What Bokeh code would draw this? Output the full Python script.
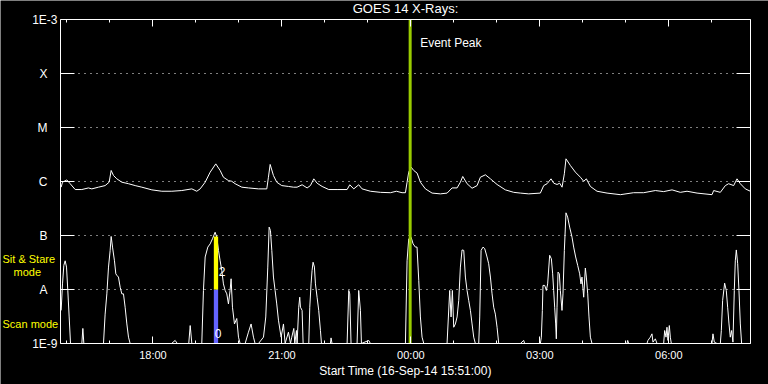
import pandas as pd
from bokeh.plotting import figure
from bokeh.models import (Range1d, FixedTicker, CustomJSTickFormatter, LogAxis,
                          DatetimeAxis, Label)
from bokeh.embed import file_html
from bokeh.resources import INLINE

# ---------------- data ----------------
start_time = "2014-09-16 15:51:00"
total_minutes = 963
peak_time = "2014-09-16 23:59:00"
mode_switch_time = "2014-09-16 19:28:00"

# GOES long channel (1-8 A), minutes after start / flux W m^-2
long_minutes = [0.9, 2.8, 8.8, 13.5, 20.5, 29.8, 39, 43.7, 53, 62.3, 67.9, 70.7, 74, 78.6, 85.6,
                94.9, 104.2, 113.5, 127.5, 141.4, 155.4, 169.3, 183.3, 190.2, 194.9, 201.9, 208.9,
                216.7, 222.8, 227.4, 234.4, 239, 243.7, 253, 262.3, 276.3, 287.9, 290.2, 292.6,
                297.2, 301.8, 308.8, 318.1, 325.1,
                330.2, 337.2, 344.2, 348.8, 353.5, 358.1, 365.1, 374.4, 386, 400, 403.7, 409.3,
                416.2, 420.9, 432.5, 446.5, 460.4, 468.8, 476.7, 481.4, 483.7, 486, 489.3, 493,
                497.7, 502.3, 509.3, 518.6, 530.2, 539.6, 546.5, 553.5, 558.1, 561.4, 567.4, 574.4,
                581.4, 586, 593, 600, 609.3, 620.9, 632.5,
                641.8, 653.5, 669.7, 674.4, 679.1, 684.6, 688.4, 693, 696.7, 700, 703.2, 705.5,
                711.6, 718.6, 725.6, 730.2, 733.9, 739.5, 748.8, 762.8, 781.4, 799.9, 813.9, 830.2,
                841.8, 853.5, 865.1, 874.4, 888.4, 909.3, 911.6, 920.9, 927.9, 932.5, 939.5, 944.2,
                948.8, 955.8, 962.8]
long_flux = [7.85e-7, 9.7e-7, 1.07e-6, 9.1e-7, 7.1e-7, 7.1e-7, 7.6e-7, 7.3e-7, 7.85e-7, 8.4e-7,
             9.7e-7, 1.60e-6, 1.29e-6, 1.12e-6, 9.7e-7, 9.1e-7, 8.4e-7, 7.85e-7, 7.0e-7, 6.6e-7,
             6.6e-7, 6.8e-7, 7.3e-7, 6.6e-7, 7.3e-7, 9.7e-7, 1.49e-6, 2.12e-6, 1.60e-6, 1.20e-6,
             1.04e-6, 1.01e-6, 9.1e-7, 7.85e-7, 7.6e-7, 7.3e-7, 7.3e-7, 1.20e-6, 2.07e-6, 1.29e-6,
             9.7e-7, 8.4e-7, 8.1e-7, 7.85e-7,
             7.85e-7, 8.7e-7, 7.6e-7, 8.4e-7, 1.12e-6, 9.3e-7, 8.1e-7, 7.1e-7, 7.1e-7, 7.1e-7,
             8.7e-7, 7.3e-7, 8.7e-7, 7.3e-7, 6.6e-7, 6.3e-7, 6.2e-7, 6.6e-7, 6.2e-7, 6.2e-7,
             9.7e-7, 1.49e-6, 1.85e-6, 1.60e-6, 1.43e-6, 9.7e-7, 7.3e-7, 6.1e-7, 5.9e-7, 6.1e-7,
             7.6e-7, 7.6e-7, 9.7e-7, 1.24e-6, 9.1e-7, 7.5e-7, 8.4e-7, 1.20e-6, 1.33e-6, 1.12e-6,
             8.8e-7, 7.0e-7, 6.3e-7,
             6.1e-7, 5.9e-7, 6.1e-7, 8.4e-7, 9.1e-7, 1.12e-6, 9.3e-7, 8.8e-7, 9.3e-7, 7.85e-7,
             1.39e-6, 2.63e-6, 1.98e-6, 1.49e-6, 1.20e-6, 1.01e-6, 1.12e-6, 8.1e-7, 6.6e-7, 6.1e-7,
             5.7e-7, 6.2e-7, 6.2e-7, 6.8e-7, 6.5e-7, 7.0e-7, 6.3e-7, 6.6e-7, 6.1e-7, 5.7e-7,
             6.8e-7, 6.3e-7, 8.4e-7, 9.1e-7, 8.4e-7, 1.12e-6, 9.1e-7, 7.3e-7, 6.6e-7]

# GOES short channel (0.5-4 A)
short_minutes = [0.9, 2.8, 4.65, 6.5, 8.4, 10.2, 12.1, 14, 29.8, 31.2, 32.6, 60, 62.3, 64.7, 67,
                 69.3, 70.7, 72.6, 75.3, 77.2, 79.1, 80.9, 83.3, 85.6, 87.9, 90.2, 92.6, 94.9, 97.2,
                 155, 160, 163, 179, 181, 183.3, 197.2, 199.5, 201.9, 205.6, 208.9, 212.1, 215.8,
                 218.1, 220.5, 222.8, 225.1, 227.4, 229.8, 232.1, 234.4, 236.7, 238.1, 240, 242.8,
                 246, 248.4, 250.7, 257.7, 262.3, 266, 269.3, 271.6, 276.3, 283.3, 286.5, 289.3,
                 291.2, 293, 294.9, 297.2, 299.5, 301.8, 304.2, 307.9, 311.2, 313.5, 318.1, 321,
                 322.8, 325.6, 327, 329.3, 330.2, 332.5, 333.9, 334.9, 337.2, 338.6, 346.5, 347.9,
                 349.7, 351.1, 352.5, 354.4, 355.8, 358.1, 360.4, 362.8, 364.2, 376.7, 377.6, 379,
                 400, 402.3, 403.7, 405.5, 413.9, 416.2, 418.6, 420, 430.2, 432.5, 481.4, 483.7,
                 486, 489.3, 492.1, 495.3, 497.6, 500, 502.3, 504.6, 507, 539.5, 543.2, 545.1,
                 546.9, 548.8, 551.1, 553.5, 555.8, 558.1, 560.4, 562.8, 565.1, 567.4, 569.7, 572.1,
                 574.4, 576.7, 579, 583.7, 585.1, 587, 589.7, 592.1, 595.3, 597.6, 600, 602.3,
                 604.6, 606.9, 609.3, 611.6, 641.8, 646.5, 647.8, 669.7, 671.1, 672.5, 673.4, 675.8,
                 678.1, 679.9, 682.7, 685.1, 686.9, 688.3, 689.7, 691.1, 692, 693, 694.4, 696.2,
                 697.6, 699.9, 701.3, 703.2, 705.5, 707.8, 710.6, 713.9, 716.2, 719, 721.8, 724.6,
                 726.4, 727.8, 730.2, 732.5, 733.9, 735.8, 737.6, 739.5, 741.8, 790.6, 791.6, 793,
                 818.5, 819.9, 823.2, 825.5, 826.9, 830.2, 832.5, 841.8, 843.2, 845.1, 846.4, 847.8,
                 849.7, 851.1, 852.5, 909.2, 910.6, 912.5, 916.2, 920.9, 922.3, 924.1, 926.9, 929.2,
                 931.1, 933, 934.8, 936.7, 938.5, 940.4, 941.8, 943.2, 945.1, 946.9, 948.8, 950.6,
                 962.7]
short_flux = [4.1e-9, 1.27e-8, 2.8e-8, 3.4e-8, 2.6e-8, 9.6e-9, 3.1e-9, 1e-9, 1e-9, 1.9e-9, 1e-9,
              1e-9, 3.5e-9, 8.3e-9, 2.6e-8, 5.3e-8, 9.6e-8, 6.1e-8, 3.4e-8, 1.95e-8, 1.8e-8, 1.7e-8,
              1.1e-8, 8.3e-9, 8.3e-9, 4.7e-9, 2.3e-9, 1.31e-9, 1e-9,
              1e-9, 1.14e-9, 1e-9, 1e-9, 2.15e-9, 1e-9, 1e-9, 9.6e-9, 4.0e-8, 6.1e-8, 7.0e-8,
              8.7e-8, 1.15e-7, 9.3e-8, 5.3e-8, 3.4e-8, 2.25e-8, 1.27e-8, 9.6e-9, 8.3e-9, 5.4e-9,
              9.6e-9, 1.58e-8, 4.7e-9, 2.3e-9, 2.9e-9, 1.31e-9, 1e-9, 1e-9, 1.62e-9, 2.3e-9,
              1.31e-9, 1e-9, 1e-9, 1.31e-9, 3.1e-9, 2.6e-8, 1.43e-7, 1.24e-7, 5.3e-8, 1.7e-8,
              9.6e-9, 5.4e-9, 2.7e-9, 1.31e-9, 2.3e-9, 1e-9, 1.62e-9, 1e-9, 1.31e-9, 1.9e-9, 1e-9,
              1.74e-9, 1e-9, 4.7e-9, 7.2e-9, 4.7e-9, 4.1e-9, 1e-9, 1e-9, 4.7e-9, 1.27e-8, 2.25e-8,
              3.2e-8, 2.6e-8, 1.27e-8, 7.2e-9, 4.1e-9, 1.74e-9, 1e-9, 1e-9, 1.27e-9, 1e-9,
              1e-9, 9.6e-9, 8.3e-9, 1e-9, 1e-9, 9.6e-9, 4.1e-9, 1e-9, 1.14e-9, 1e-9, 1e-9, 3.4e-8,
              8.7e-8, 9.3e-8, 7.0e-8, 6.1e-8, 6.1e-8, 1.47e-8, 3.1e-9, 1.31e-9, 1e-9, 1e-9, 9.6e-9,
              3.1e-9, 9.6e-9, 2.0e-9, 2.3e-9, 3.1e-9, 6.3e-9, 2.6e-8, 5.4e-8, 5.3e-8, 1.7e-8,
              9.6e-9, 6.3e-9, 4.1e-9, 2.3e-9, 1.31e-9, 1e-9, 1e-9, 3.1e-9, 5.3e-8, 6.1e-8, 5.7e-8,
              4.0e-8, 3.0e-8, 1.7e-8, 8.3e-9, 4.7e-9, 3.5e-9, 2.0e-9, 1e-9, 1e-9, 1.14e-9, 1e-9,
              1e-9, 1.31e-9, 4.1e-9, 1.19e-8, 1.19e-8, 9.6e-9, 1.27e-8, 4.3e-8, 3.7e-8, 1.95e-8,
              9.6e-9, 4.7e-9, 2.3e-9, 1.22e-9, 4.7e-9, 2.1e-8, 1.95e-8, 9.6e-9, 4.1e-9, 8.3e-9,
              5.3e-8, 2.63e-7, 2.19e-7, 1.43e-7, 9.3e-8, 6.1e-8, 4.0e-8, 2.8e-8, 1.95e-8, 1.27e-8,
              1.7e-8, 7.2e-9, 2.5e-8, 1.7e-8, 8.3e-9, 3.1e-9, 1.31e-9, 1e-9, 1e-9, 1.14e-9, 1e-9,
              1e-9, 1.14e-9, 1.31e-9, 1.51e-9, 1.06e-9, 1.22e-9, 1e-9, 1e-9, 1.74e-9, 1.31e-9,
              2.0e-9, 1.14e-9, 2.15e-9, 1.31e-9, 1e-9, 1e-9, 1.51e-9, 1.06e-9, 1e-9, 1e-9, 1.74e-9,
              6.3e-9, 1.31e-8, 9.6e-9, 4.7e-9, 2.3e-9, 1.31e-9, 1.74e-9, 1.06e-9, 9.6e-9, 3.4e-8,
              5.4e-8, 3.0e-8, 9.6e-9, 2.3e-9, 1e-9, 1e-9]

# observing mode bars (flux ranges)
scan_bottom, scan_top = 1e-9, 1e-8
sit_bottom, sit_top = 1e-8, 9.6e-8

y_tick_values = [1e-9, 1e-8, 1e-7, 1e-6, 1e-5, 1e-4, 1e-3]
y_tick_labels = ["1E-9", "A", "B", "C", "M", "X", "1E-3"]
x_tick_times = ["2014-09-16 18:00", "2014-09-16 21:00", "2014-09-17 00:00",
                "2014-09-17 03:00", "2014-09-17 06:00"]
x_tick_labels = ["18:00", "21:00", "00:00", "03:00", "06:00"]

# ---------------- layout constants (pixels) ----------------
W, H = 768, 384
FL, FR, FT, FB = 60, 750, 19, 343      # plot box inside the canvas

def ms(ts):
    return pd.Timestamp(ts).value / 1e6

t0 = pd.Timestamp(start_time)
t_end = t0 + pd.Timedelta(minutes=total_minutes)
long_t = t0 + pd.to_timedelta(long_minutes, unit="m")
short_t = t0 + pd.to_timedelta(short_minutes, unit="m")

# extend ranges so that the data box sits at FL..FR / FT..FB and the margins stay drawable
min_per_px = total_minutes / (FR - FL)
x_lo = t0 - pd.Timedelta(minutes=FL * min_per_px)
x_hi = t_end + pd.Timedelta(minutes=(W - FR) * min_per_px)
dec_per_px = 6 / (FB - FT)
y_lo = 10 ** (-9 - (H - FB) * dec_per_px)
y_hi = 10 ** (-3 + FT * dec_per_px)

x_major = [ms(t) for t in x_tick_times]
x_minor = [ms(t) for t in pd.date_range("2014-09-16 16:00", "2014-09-17 07:00", freq="h")]
T0, TE = ms(t0), ms(t_end)

FONT = "Liberation Sans"
WHITE = "white"
YELLOW = "#ffff00"

p = figure(width=W, height=H, x_axis_type="datetime", y_axis_type="log",
           x_range=Range1d(x_lo, x_hi), y_range=Range1d(y_lo, y_hi),
           output_backend="svg", toolbar_location=None, min_border=0,
           background_fill_color="black", border_fill_color="black",
           outline_line_color=None,
           styles={"position": "absolute", "left": "0px", "top": "0px"})
p.title.visible = False
p.grid.visible = False

# y axis (left), pinned at the start time
padded = [lab if len(lab) > 1 else lab + "\u00a0" * 3 for lab in y_tick_labels]
yax = p.yaxis[0]
yax.fixed_location = T0
yax.bounds = (1e-9, 1e-3)
yax.ticker = FixedTicker(ticks=y_tick_values, minor_ticks=[])
yax.formatter = CustomJSTickFormatter(args=dict(labs=padded), code="""
const i = Math.round(Math.log10(tick)) + 9;
return (i >= 0 && i < labs.length) ? labs[i] : "";
""")
yax.major_tick_in = 14
yax.major_tick_out = 0
yax.minor_tick_line_color = None
yax.axis_line_color = WHITE
yax.major_tick_line_color = WHITE
yax.major_label_text_color = WHITE
yax.major_label_text_font = FONT
yax.major_label_text_font_size = "12px"
yax.major_label_standoff = 3

# y axis (right) ticks only, pinned at the end time
rax = LogAxis(ticker=FixedTicker(ticks=y_tick_values, minor_ticks=[]),
              formatter=CustomJSTickFormatter(code="return '';"),
              fixed_location=TE, bounds=(1e-9, 1e-3),
              major_tick_in=14, major_tick_out=0, minor_tick_line_color=None,
              axis_line_color=WHITE, major_tick_line_color=WHITE,
              major_label_text_font_size="0px", major_label_standoff=0)
p.add_layout(rax, "right")

# x axis (bottom), pinned at 1E-9
xax = p.xaxis[0]
xax.fixed_location = 1e-9
xax.bounds = (T0, TE)
xax.ticker = FixedTicker(ticks=x_major, minor_ticks=x_minor)
xax.formatter = CustomJSTickFormatter(args=dict(tvals=x_major, labs=x_tick_labels), code="""
for (let i = 0; i < tvals.length; i++) { if (Math.abs(tvals[i] - tick) < 1000) return labs[i]; }
return "";
""")
xax.major_tick_in = 7
xax.major_tick_out = 0
xax.minor_tick_in = 3
xax.minor_tick_out = 0
xax.axis_line_color = WHITE
xax.major_tick_line_color = WHITE
xax.minor_tick_line_color = WHITE
xax.major_label_text_color = WHITE
xax.major_label_text_font = FONT
xax.major_label_text_font_size = "11px"
xax.major_label_standoff = 5
xax.axis_label = "Start Time (16-Sep-14 15:51:00)"
xax.axis_label_text_color = WHITE
xax.axis_label_text_font = FONT
xax.axis_label_text_font_size = "12px"
xax.axis_label_text_font_style = "normal"
xax.axis_label_standoff = 0

# x axis (top) ticks only, pinned at 1E-3
tax = DatetimeAxis(ticker=FixedTicker(ticks=x_major, minor_ticks=x_minor),
                   formatter=CustomJSTickFormatter(code="return '';"),
                   fixed_location=1e-3, bounds=(T0, TE),
                   major_tick_in=7, major_tick_out=0, minor_tick_in=3, minor_tick_out=0,
                   axis_line_color=WHITE, major_tick_line_color=WHITE,
                   minor_tick_line_color=WHITE,
                   major_label_text_font_size="0px", major_label_standoff=0)
p.add_layout(tax, "above")

# dotted flux-class grid lines between the axes
inner = y_tick_values[1:-1]
p.segment(x0=[T0] * len(inner), x1=[TE] * len(inner), y0=inner, y1=inner,
          line_color=WHITE, line_dash="1 5", line_width=1)

# data
p.line(long_t, long_flux, line_color=WHITE, line_width=1)
p.line(short_t, short_flux, line_color=WHITE, line_width=1)

mode_ms = ms(mode_switch_time)
bar_w = 6 * 60 * 1000
p.vbar(x=[mode_ms], width=bar_w, bottom=[scan_bottom], top=[scan_top],
       fill_color="#6464ff", line_color=None)
p.vbar(x=[mode_ms], width=bar_w, bottom=[sit_bottom], top=[sit_top],
       fill_color=YELLOW, line_color=None)

p.add_layout(Label(x=mode_ms, y=2.15e-8, x_offset=6, text="2", text_color=WHITE,
                   text_font=FONT, text_font_size="12px", text_align="center",
                   text_baseline="middle"))
p.add_layout(Label(x=mode_ms, y=1.55e-9, x_offset=2, text="0", text_color=WHITE,
                   text_font=FONT, text_font_size="12px", text_align="center",
                   text_baseline="middle"))

# event peak marker
peak_ms = ms(peak_time)
p.segment(x0=[peak_ms], x1=[peak_ms], y0=[1e-9], y1=[1e-3], line_color="#99cc00", line_width=3)
p.add_layout(Label(x=peak_ms, y=3.6e-4, x_offset=10, text="Event Peak", text_color=WHITE,
                   text_font=FONT, text_font_size="12px", text_baseline="middle"))

# title
mid_ms = (T0 + TE) / 2
p.add_layout(Label(x=mid_ms, y=1e-3, y_offset=11, text="GOES 14 X-Rays:", text_color=WHITE,
                   text_font=FONT, text_font_size="13px", text_align="center",
                   text_baseline="middle"))

# observing-mode labels in the left margin
for txt, yv, dx in [("Sit & Stare", 3.6e-8, -58), ("mode", 2.15e-8, -47), ("Scan mode", 2.25e-9, -58)]:
    p.add_layout(Label(x=T0, y=yv, x_offset=dx, text=txt, text_color=YELLOW,
                       text_font=FONT, text_font_size="11px", text_baseline="middle"))

open("out.html", "w").write(file_html(p, INLINE))
